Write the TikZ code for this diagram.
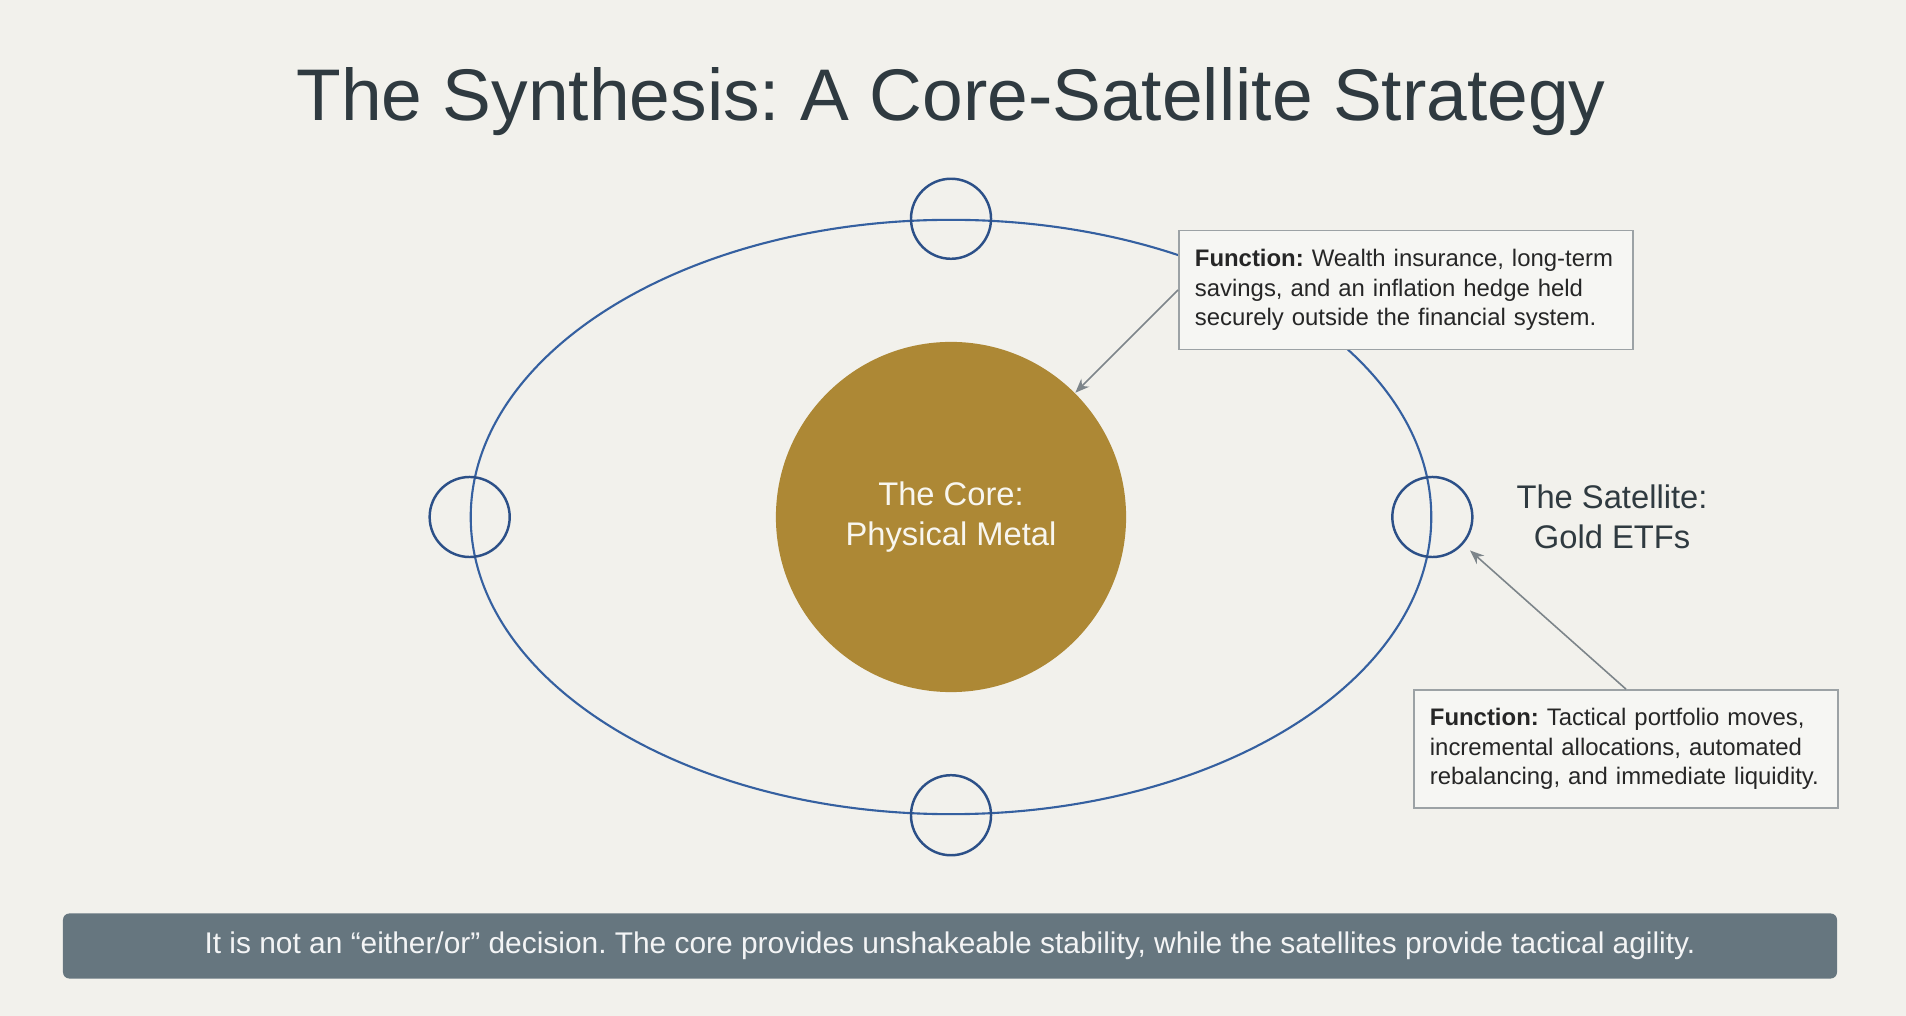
\documentclass[tikz,border=0pt]{standalone}
\usepackage{fontspec}
\setmainfont{Liberation Sans}
\usetikzlibrary{shapes.geometric, arrows.meta, positioning, calc}
\frenchspacing

\definecolor{paper}{HTML}{F2F1EC}
\definecolor{inkdark}{HTML}{2F3A40}
\definecolor{orbitblue}{HTML}{3560A0}
\definecolor{satblue}{HTML}{2C5088}
\definecolor{coregold}{HTML}{AD8835}
\definecolor{boxedge}{HTML}{9CA2A5}
\definecolor{boxfill}{HTML}{F6F6F3}
\definecolor{pointer}{HTML}{7D858A}
\definecolor{banner}{HTML}{66767F}

\begin{document}
\begin{tikzpicture}[
    x=0.01cm, y=-0.01cm,
    sat/.style={draw=satblue, circle, line width=0.7pt, minimum size=0.8cm, inner sep=0pt},
    fnbox/.style={draw=boxedge, fill=boxfill, line width=0.45pt, align=left, inner xsep=0.16cm,
        font=\fontsize{6.8}{8.3}\selectfont, text=black!85},
    lbl/.style={align=center, font=\fontsize{9.3}{11.4}\selectfont},
    pointarrow/.style={draw=pointer, line width=0.45pt, -{Stealth[length=4pt, width=3.2pt]}},
]
    \fill[paper] (0,0) rectangle (1906,1016);
    \useasboundingbox (0,0) rectangle (1906,1016);

    \node[font=\fontsize{20.8}{25}\selectfont, text=inkdark] (title) at (951, 102) {The Synthesis: A Core-Satellite Strategy};

    % orbit and satellites
    \node[draw=orbitblue, ellipse, line width=0.6pt, minimum width=9.6cm, minimum height=5.94cm, inner sep=0pt] (orbit) at (951, 517) {};
    \node[sat] (satN) at (orbit.north) {};
    \node[sat] (satS) at (orbit.south) {};
    \node[sat] (satW) at (orbit.west) {};
    \node[sat] (satE) at (orbit.east) {};

    \node[circle, fill=coregold, minimum size=3.5cm, inner sep=0pt, lbl, text=white!92!coregold] (core) at (951, 517) {The Core:\\Physical Metal};

    \node[lbl, text=inkdark] (satlabel) at (1612, 517) {The Satellite:\\Gold ETFs};

    % function boxes
    \node[fnbox, text width=4.22cm, minimum height=1.19cm] (fncore) at (1406, 290) {\textbf{Function:} Wealth insurance, long-term savings, and an inflation hedge held securely outside the financial system.};
    \node[fnbox, text width=3.92cm, minimum height=1.18cm] (fnsat) at (1626, 749) {\textbf{Function:} Tactical portfolio moves, incremental allocations, automated rebalancing, and immediate liquidity.};

    \draw[pointarrow] (fncore.west) -- (core);
    \draw[pointarrow, shorten >=2.6pt] (fnsat.north) -- (satE);

    % bottom message
    \node[fill=banner, rounded corners=1.8pt, minimum width=17.73cm, minimum height=0.65cm, text=white!92!banner,
        font=\fontsize{8.5}{10}\selectfont] (message) at (950, 946) {It is not an “either/or” decision. The core provides unshakeable stability, while the satellites provide tactical agility.};
\end{tikzpicture}
\end{document}
